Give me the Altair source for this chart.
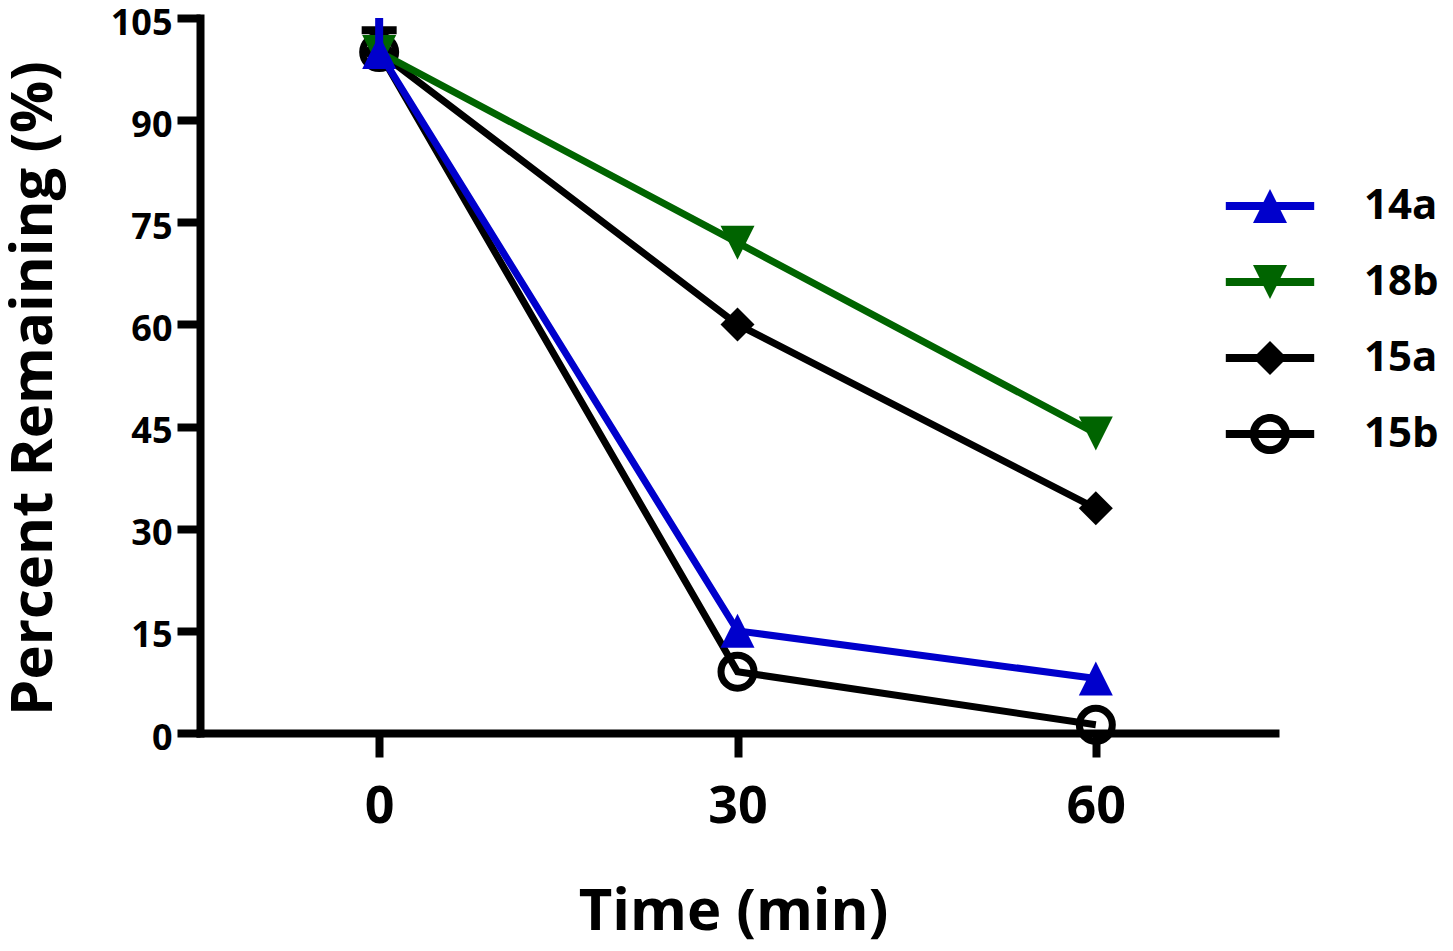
import altair as alt
import pandas as pd

# ---- data ----
series = ["14a", "18b", "15a", "15b"]
times = [0, 30, 60]
v_14a = [100, 15, 8]
v_18b = [100, 72, 44]
v_15a = [100, 60, 33]
v_15b = [100, 9, 1.2]
colors = ["#0000CC", "#006400", "#000000", "#000000"]

# error bars visible at time 0
err_series = ["15a", "14a"]
err_time = [0, 0]
err_low = [100, 100]
err_high = [103.2, 106]

y_ticks = [0, 15, 30, 45, 60, 75, 90, 105]

values = {"14a": v_14a, "18b": v_18b, "15a": v_15a, "15b": v_15b}
rows = []
for s in series:
    for t, v in zip(times, values[s]):
        rows.append({"series": s, "time": t, "value": v})
df = pd.DataFrame(rows)
err_df = pd.DataFrame({"series": err_series, "time": err_time,
                       "low": err_low, "high": err_high})

FONT = "Open Sans"
LW = 7

x_enc = alt.X("time:Q",
              scale=alt.Scale(domain=[-15, 75], nice=False, zero=False),
              axis=alt.Axis(values=times, title="Time (min)", format="d",
                            tickSize=24, labelPadding=24,
                            labelFontSize=52, titleFontSize=58,
                            titleX=533, titleY=150,
                            titleAlign="center", titleBaseline="top"))
y_enc = alt.Y("value:Q",
              scale=alt.Scale(domain=[0, 105], nice=False),
              axis=alt.Axis(values=y_ticks, title="Percent Remaining (%)",
                            tickSize=23, labelPadding=5,
                            labelFontSize=36, labelBaseline="alphabetic",
                            labelOffset=16,
                            titleFontSize=58,
                            titleX=-137, titleY=370, titleAngle=270,
                            titleAlign="center", titleBaseline="bottom"))
col_scale = alt.Scale(domain=series, range=colors)
color_enc = alt.Color("series:N", scale=col_scale, legend=None)

base = alt.Chart(df)

tri_up = "M0,-1L1,1L-1,1Z"
tri_down = "M0,1L-1,-1L1,-1Z"
marker = {
    "14a": dict(shape=tri_up, filled=True, size=1156),
    "18b": dict(shape=tri_down, filled=True, size=1156),
    "15a": dict(shape="diamond", filled=True, size=1156),
    "15b": dict(shape="circle", filled=False, size=1089, strokeWidth=LW),
}

layers = []
for s in ["15b", "15a", "18b", "14a"]:
    sub = base.transform_filter(alt.datum.series == s)
    layers.append(sub.mark_line(strokeWidth=LW).encode(x=x_enc, y=y_enc, color=color_enc))
    layers.append(sub.mark_point(opacity=1, **marker[s]).encode(x=x_enc, y=y_enc, color=color_enc))

err_base = alt.Chart(err_df)
layers.append(err_base.mark_tick(thickness=8, size=35, orient="horizontal",
                                 clip=True, opacity=1)
              .encode(x="time:Q", y="high:Q", color=color_enc))
layers.append(err_base.transform_filter(alt.datum.series == "14a")
              .mark_rule(strokeWidth=8, clip=True, opacity=1)
              .encode(x="time:Q", y="low:Q", y2="high:Q", color=color_enc))

# legend symbols: line + marker (all sub-paths wound the same way)
line_part = "M-2.6,-0.235H2.6V0.235H-2.6Z"
ring = ("M1.18,0A1.18,1.18 0 1,1 -1.18,0A1.18,1.18 0 1,1 1.18,0Z"
        "M0.72,0A0.72,0.72 0 1,0 -0.72,0A0.72,0.72 0 1,0 0.72,0Z")
legend_paths = [line_part + tri_up, line_part + "M0,1L-1,-1L1,-1Z",
                line_part + "M0,-1L1,0L0,1L-1,0Z", line_part + ring]

leg = alt.Legend(orient="none", legendX=1049, legendY=167, title=None,
                 labelFont=FONT, labelFontWeight="bold", labelFontSize=42,
                 labelColor="black", labelOffset=73, labelLimit=300,
                 symbolSize=1156, symbolOpacity=1, symbolStrokeWidth=0,
                 rowPadding=34, padding=0)
legend_layer = base.mark_point(filled=True, opacity=0).encode(
    x=x_enc, y=y_enc,
    color=alt.Color("series:N", scale=col_scale, legend=leg),
    shape=alt.Shape("series:N", scale=alt.Scale(domain=series, range=legend_paths), legend=leg),
)
layers.append(legend_layer)

chart = alt.layer(*layers).resolve_scale(
    color="independent", shape="independent"
).properties(
    width=1075, height=715,
    autosize=alt.AutoSizeParams(type="none"),
    padding={"left": 192, "top": 10, "right": 170, "bottom": 215},
    background="white",
).configure_view(stroke=None).configure_axis(
    grid=False,
    domainColor="black", domainWidth=8, domainCap="square",
    tickColor="black", tickWidth=8,
    labelFont=FONT, labelFontWeight="bold", labelColor="black",
    titleFont=FONT, titleFontWeight="bold", titleColor="black",
)

chart.save("out.html", embed_options={"renderer": "svg", "actions": False})
